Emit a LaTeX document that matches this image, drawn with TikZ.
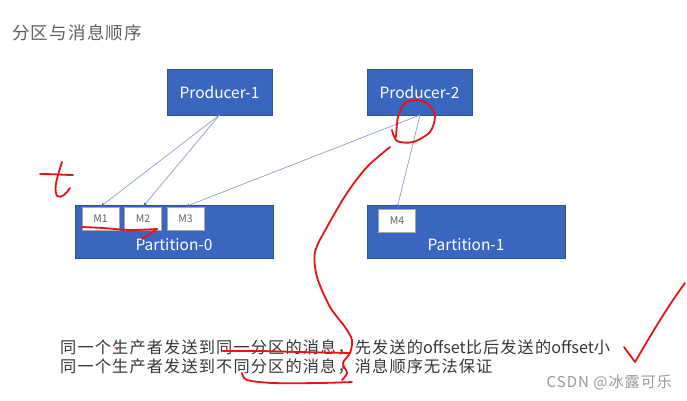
\documentclass[tikz,border=0pt]{standalone}
\usepackage{fontspec}
\setmainfont{Noto Sans CJK SC}
\newfontfamily\cjkls{Noto Sans CJK SC}[LetterSpace=7]
\newfontfamily\cjkwide{Noto Sans CJK SC}[LetterSpace=10]
\usetikzlibrary{arrows.meta}
\definecolor{boxblue}{RGB}{59,102,192}
\definecolor{boxedge}{RGB}{47,82,150}
\definecolor{linkc}{RGB}{140,160,200}
\definecolor{tipc}{RGB}{70,110,190}
\definecolor{txt}{RGB}{55,55,55}
\definecolor{ttl}{RGB}{95,95,95}
\definecolor{mtxt}{RGB}{100,100,100}
\definecolor{ink}{RGB}{230,20,20}
\tikzset{
  bluebox/.style={draw=boxedge, line width=0.6pt, fill=boxblue, text=white, inner sep=0pt, font=\fontsize{15.5}{18}\selectfont},
  msgbox/.style={draw=black!35, line width=0.8pt, fill=white, text=mtxt, inner sep=0pt, minimum width=37pt, minimum height=23pt, font=\fontsize{10.5}{12}\selectfont},
  link/.style={draw=linkc, line width=0.7pt, -{Latex[length=4pt,width=3.5pt,color=tipc]}},
  pen/.style={draw=ink, line width=1.8pt, line cap=round, line join=round},
  lbl/.style={inner sep=0pt, anchor=west, text=txt, font=\fontsize{16.2}{18}\selectfont}
}
\begin{document}
\begin{tikzpicture}[x=1pt,y=-1pt]
\useasboundingbox[fill=white] (0,0) rectangle (687,400);
% title
\node[inner sep=0pt, anchor=west, text=ttl, font=\fontsize{17.5}{20}\selectfont] (title) at (12,33) {\cjkls 分区与消息顺序};
% producers
\node[bluebox, minimum width=105pt, minimum height=46pt] (p1) at (219.5,92) {Producer-1};
\node[bluebox, minimum width=105pt, minimum height=46pt] (p2) at (419.5,92) {Producer-2};
% partitions
\node[bluebox, minimum width=198pt, minimum height=53pt] (part0) at (174,231.5) {};
\node[bluebox, minimum width=198pt, minimum height=53pt] (part1) at (466,231.5) {};
\node[text=white, inner sep=0pt, font=\fontsize{15.5}{18}\selectfont] (t0) at (174,245) {Partition-0};
\node[text=white, inner sep=0pt, font=\fontsize{15.5}{18}\selectfont] (t1) at (466,245) {Partition-1};
% messages
\node[msgbox] (m1) at (100.5,218.5) {M1};
\node[msgbox] (m2) at (143,218.5) {M2};
\node[msgbox] (m3) at (185.5,218.5) {M3};
\node[msgbox] (m4) at (397,220.5) {M4};
% links
\coordinate (p1s) at (219.5,115);
\coordinate (p2s) at (420,115);
\draw[link] (p1s) -- (m1.north);
\draw[link] (p1s) -- (m2.north);
\draw[link] (p2s) -- (m3.north);
\draw[link] (p2s) -- (m4.north);
% text
\node[lbl] (l1) at (60,347) {{\cjkls 同一个生产者发送到同一分区的消息，先发送的}offset{\cjkls 比后发送的}offset{\cjkls 小}};
\node[lbl] (l2) at (60,366) {{\cjkls 同一个生产者发送到不同分区的消息，消息顺序无法保证}};
\node[inner sep=0pt, anchor=east, text=black!40, font=\fontsize{15}{16}\selectfont] (wm) at (672,382) {{\cjkls CSDN @冰露可乐}};
% red annotations
\draw[pen] (40,174) .. controls (55,174) and (65,175) .. (73,175);
\draw[pen] (62,162) .. controls (58,175) and (53,188) .. (57,196) .. controls (61,199) and (67,193) .. (70,188);
\draw[pen] plot[smooth] coordinates {(82,227) (103,228) (130,230) (157,229)};
\draw[pen] (157,229) -- (142,239);
\draw[pen] plot[smooth] coordinates {(392,130) (397,141) (413,142) (430,132) (435,116) (428,104) (417,100) (405,103) (398,117) (396,137)};
\draw[pen] plot[smooth] coordinates {(390,147) (367,167) (347,193) (327,227) (315,252) (317,277) (330,307) (345,327) (352,340) (350,353) (343,363) (347,373) (342,380)};
\draw[pen] plot[smooth] coordinates {(223,351) (260,351) (300,352) (350,353)};
\draw[pen] plot[smooth] coordinates {(352,382) (320,383) (273,383) (247,380) (242,373)};
\draw[pen] (343,366) -- (343.5,368);
\fill[ink] (117,349) circle (1.2pt);
\draw[pen] (624,347) -- (635,362) .. controls (645,345) and (665,310) .. (685,283);
\end{tikzpicture}
\end{document}
